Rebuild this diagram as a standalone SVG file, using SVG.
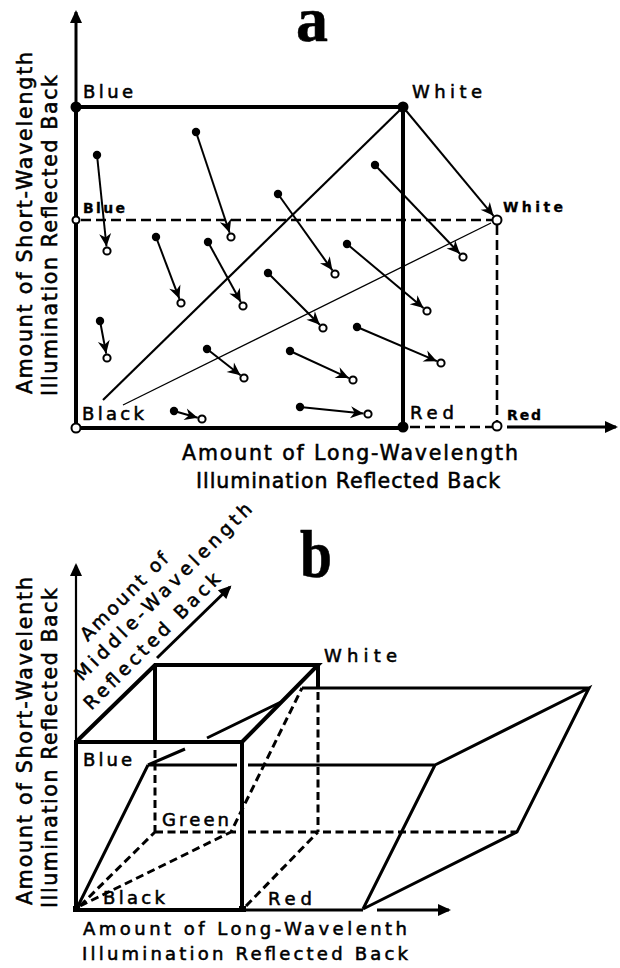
<svg xmlns="http://www.w3.org/2000/svg" width="620" height="968" viewBox="0 0 620 968">
<defs>
<style>
text{font-family:"DejaVu Sans","Liberation Sans",sans-serif;fill:#000;stroke:#000;stroke-width:0.55px}
.lbl{font-size:18px}
.sm{font-size:14px;font-weight:bold;stroke-width:0.3px}
.ax{font-size:20.5px}
.dg{font-size:18.5px}
.ttl{font-family:"Liberation Serif","Times New Roman",serif;font-weight:bold;stroke-width:0.6px}
.k4{stroke:#000;stroke-width:4;fill:none}
.k3{stroke:#000;stroke-width:3;fill:none}
.k2{stroke:#000;stroke-width:2.2;fill:none}
.k1{stroke:#000;stroke-width:1.3;fill:none}
.da{stroke:#000;stroke-width:2.6;fill:none;stroke-dasharray:10 5}
.db{stroke:#000;stroke-width:3;fill:none;stroke-dasharray:8 4.5}
.dot{fill:#000}
.hol{fill:#fff;stroke:#000;stroke-width:2}
.arr{stroke:#000;stroke-width:2;fill:none;marker-end:url(#st)}
.axa{marker-end:url(#tri)}
</style>
<marker id="st" viewBox="-15 -8 16 16" markerWidth="16" markerHeight="16" refX="0" refY="0" orient="auto" markerUnits="userSpaceOnUse"><path d="M0,0 L-13,-6 L-9,0 L-13,6 Z" fill="#000"/></marker>
<marker id="tri" viewBox="-14 -8 17 16" markerWidth="17" markerHeight="16" refX="0" refY="0" orient="auto" markerUnits="userSpaceOnUse"><path d="M2,0 L-11,-6 L-11,6 Z" fill="#000"/></marker>
</defs>

<!-- ===== Panel a ===== -->
<g id="panel-a">
<text class="ttl" x="296" y="41" font-size="64">a</text>

<g id="a-connectors">
<path class="k4" d="M76,107 H403 V428 H76 Z"/>
<line class="k3 axa" x1="76" y1="107" x2="76" y2="12"/>
<line class="k3 axa" x1="507" y1="427" x2="616" y2="427"/>
<path class="da" d="M81,220 H492 M497,225 V421 M410,427 H492"/>
<line class="k2" x1="103" y1="400" x2="401" y2="109"/>
<line class="k1" x1="123" y1="405" x2="491" y2="223"/>
<line class="arr" x1="403" y1="107" x2="493.5" y2="215.8"/>
<line class="arr" x1="97" y1="155" x2="106.5" y2="246.5"/>
<line class="arr" x1="196" y1="132" x2="229.6" y2="232.7"/>
<line class="arr" x1="156" y1="237" x2="179.4" y2="298.8"/>
<line class="arr" x1="208" y1="242" x2="240.8" y2="302"/>
<line class="arr" x1="278" y1="194" x2="332.4" y2="270.3"/>
<line class="arr" x1="268" y1="273" x2="319.8" y2="324.8"/>
<line class="arr" x1="375" y1="165" x2="459.9" y2="253.7"/>
<line class="arr" x1="347" y1="244" x2="423.5" y2="308.1"/>
<line class="arr" x1="357" y1="327" x2="436.9" y2="361.2"/>
<line class="arr" x1="300" y1="407" x2="363.5" y2="413.5"/>
<line class="arr" x1="290" y1="351" x2="348.9" y2="378.1"/>
<line class="arr" x1="100" y1="321" x2="106.2" y2="353.6"/>
<line class="arr" x1="207" y1="349" x2="240.5" y2="375.2"/>
<line class="arr" x1="174" y1="411" x2="197.7" y2="417.8"/>
</g>

<g id="a-points">
<circle class="dot" cx="97" cy="155" r="4.2"/><circle class="hol" cx="107" cy="251" r="3.6"/>
<circle class="dot" cx="196" cy="132" r="4.2"/><circle class="hol" cx="231" cy="237" r="3.6"/>
<circle class="dot" cx="156" cy="237" r="4.2"/><circle class="hol" cx="181" cy="303" r="3.6"/>
<circle class="dot" cx="208" cy="242" r="4.2"/><circle class="hol" cx="243" cy="306" r="3.6"/>
<circle class="dot" cx="278" cy="194" r="4.2"/><circle class="hol" cx="335" cy="274" r="3.6"/>
<circle class="dot" cx="268" cy="273" r="4.2"/><circle class="hol" cx="323" cy="328" r="3.6"/>
<circle class="dot" cx="375" cy="165" r="4.2"/><circle class="hol" cx="463" cy="257" r="3.6"/>
<circle class="dot" cx="347" cy="244" r="4.2"/><circle class="hol" cx="427" cy="311" r="3.6"/>
<circle class="dot" cx="357" cy="327" r="4.2"/><circle class="hol" cx="441" cy="363" r="3.6"/>
<circle class="dot" cx="300" cy="407" r="4.2"/><circle class="hol" cx="368" cy="414" r="3.6"/>
<circle class="dot" cx="290" cy="351" r="4.2"/><circle class="hol" cx="353" cy="380" r="3.6"/>
<circle class="dot" cx="100" cy="321" r="4.2"/><circle class="hol" cx="107" cy="358" r="3.6"/>
<circle class="dot" cx="207" cy="349" r="4.2"/><circle class="hol" cx="244" cy="378" r="3.6"/>
<circle class="dot" cx="174" cy="411" r="4.2"/><circle class="hol" cx="202" cy="419" r="3.6"/>
</g>

<g id="a-blue"><circle class="dot" cx="76" cy="107" r="5.5"/><text class="lbl" x="83" y="98" textLength="50" lengthAdjust="spacing">Blue</text></g>
<g id="a-white"><circle class="dot" cx="403" cy="107" r="5.5"/><text class="lbl" x="412" y="98" textLength="70" lengthAdjust="spacing">White</text></g>
<g id="a-red"><circle class="dot" cx="403" cy="427" r="5.5"/><text class="lbl" x="410" y="419" textLength="44" lengthAdjust="spacing">Red</text></g>
<g id="a-black"><circle class="hol" cx="76" cy="428" r="4.5" stroke-width="3"/><text class="lbl" x="82" y="420" textLength="62" lengthAdjust="spacing">Black</text></g>
<g id="a-blue2"><circle class="hol" cx="76" cy="220" r="3.5"/><text class="sm" x="83" y="213" textLength="42" lengthAdjust="spacing">Blue</text></g>
<g id="a-white2"><circle class="hol" cx="497" cy="220" r="4.5"/><text class="sm" x="503" y="212" textLength="60" lengthAdjust="spacing">White</text></g>
<g id="a-red2"><circle class="hol" cx="497" cy="426" r="4.5"/><text class="sm" x="507" y="420" textLength="34" lengthAdjust="spacing">Red</text></g>

<g id="a-axis-labels">
<text class="ax" x="182" y="460" textLength="336" lengthAdjust="spacing">Amount of Long-Wavelength</text>
<text class="ax" x="196" y="488" textLength="304" lengthAdjust="spacing">Illumination Reflected Back</text>
<text class="ax" transform="translate(32,394) rotate(-90)" textLength="342" lengthAdjust="spacing">Amount of Short-Wavelength</text>
<text class="ax" transform="translate(57,396) rotate(-90)" textLength="321" lengthAdjust="spacing">Illumination Reflected Back</text>
</g>
</g>

<!-- ===== Panel b ===== -->
<g id="panel-b">
<text class="ttl" x="300" y="577" font-size="68" textLength="32" lengthAdjust="spacingAndGlyphs">b</text>

<g id="b-connectors">
<!-- axes -->
<line class="k2 axa" x1="76" y1="742" x2="76" y2="565"/>
<line class="k3 axa" x1="157" y1="658" x2="230" y2="587"/>
<line class="k3 axa" x1="377" y1="910" x2="449" y2="910"/>
<!-- original cube -->
<path class="k4" d="M76,910 V742 H242 V910 M76,742 L155,665 H318 L242,742 M155,665 V742 M318,665 V688" stroke-linejoin="miter"/>
<path class="k4" d="M76,910 H242"/>
<path class="k3" d="M242,910 H363"/>
<path class="db" d="M155,750 V832 M155,832 H236 M248,832 H517 M318,692 V832 M80,906 L155,832 M246,906 L318,832 M80,906 L231,832 L302,688"/>
<!-- transformed box -->
<path class="k3" d="M76,910 L148,765 M148,765 H237 M248,765 H435 M363,909 L435,765 M148,765 L185,749 M207,738 L281,702 M302,688 H589 M435,765 L589,688 L517,832 L363,909"/>
</g>

<g id="b-white"><text class="lbl" x="324" y="662" textLength="73" lengthAdjust="spacing">White</text></g>
<g id="b-blue"><text class="lbl" x="83" y="766" textLength="49" lengthAdjust="spacing">Blue</text></g>
<g id="b-green"><text class="lbl" x="162" y="826" textLength="67" lengthAdjust="spacing">Green</text></g>
<g id="b-black"><rect x="73" y="906" width="7" height="6" fill="#000"/><text class="lbl" x="103" y="904" textLength="62" lengthAdjust="spacing">Black</text></g>
<g id="b-red"><rect x="239" y="906" width="7" height="6" fill="#000"/><text class="lbl" x="268" y="905" textLength="44" lengthAdjust="spacing">Red</text></g>

<g id="b-axis-labels">
<text class="lbl" x="83" y="935" font-size="19.5" textLength="324" lengthAdjust="spacing">Amount of Long-Wavelenth</text>
<text class="lbl" x="82" y="960" font-size="19.5" textLength="326" lengthAdjust="spacing">Illumination Reflected Back</text>
<text class="ax" transform="translate(32,905) rotate(-90)" textLength="328" lengthAdjust="spacing">Amount of Short-Wavelenth</text>
<text class="ax" transform="translate(57,908) rotate(-90)" textLength="320" lengthAdjust="spacing">Illumination Reflected Back</text>
<g transform="rotate(-45)">
<text class="dg" x="-334" y="516" text-anchor="middle" textLength="116" lengthAdjust="spacing">Amount of</text>
<text class="dg" x="-303" y="540" text-anchor="middle" textLength="242" lengthAdjust="spacing">Middle-Wavelength</text>
<text class="dg" x="-346" y="567" text-anchor="middle" textLength="184" lengthAdjust="spacing">Reflected Back</text>
</g>
</g>
</g>
</svg>
